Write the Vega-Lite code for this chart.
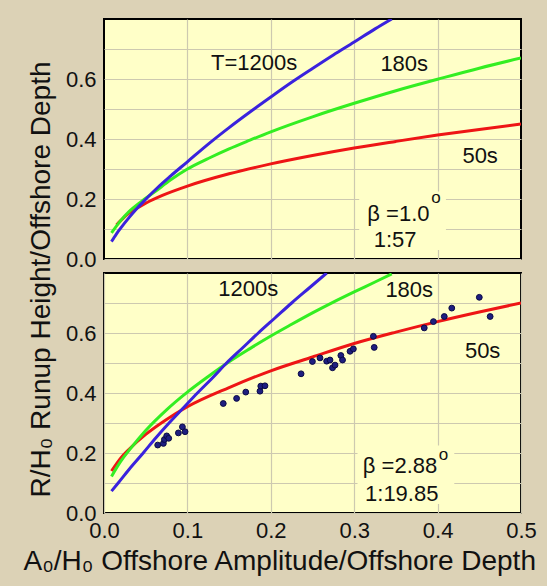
{
  "$schema": "https://vega.github.io/schema/vega-lite/v6.json",
  "background": "#dcd2b6",
  "padding": {"left": 22, "top": 18, "right": 12, "bottom": 10},
  "bounds": "flush",
  "spacing": 14,
  "config": {
    "font": "Liberation Sans",
    "view": {"fill": "#ffffc8", "stroke": "#000000", "strokeWidth": 2},
    "axis": {"domain": false, "ticks": false, "gridColor": "#cdc9b0", "gridWidth": 1.2, "labelFont": "Liberation Sans", "labelFontSize": 22, "labelColor": "#111111", "titleFont": "Liberation Sans", "titleFontWeight": "normal", "titleColor": "#111111", "labelFlush": false, "labelOverlap": false}
  },
  "datasets": {
    "curves": [
      {"panel": "top", "series": "1200s", "x": 0.009, "y": 0.058},
      {"panel": "top", "series": "1200s", "x": 0.015, "y": 0.084},
      {"panel": "top", "series": "1200s", "x": 0.02, "y": 0.103},
      {"panel": "top", "series": "1200s", "x": 0.03, "y": 0.138},
      {"panel": "top", "series": "1200s", "x": 0.04, "y": 0.17},
      {"panel": "top", "series": "1200s", "x": 0.05, "y": 0.199},
      {"panel": "top", "series": "1200s", "x": 0.065, "y": 0.24},
      {"panel": "top", "series": "1200s", "x": 0.08, "y": 0.277},
      {"panel": "top", "series": "1200s", "x": 0.1, "y": 0.324},
      {"panel": "top", "series": "1200s", "x": 0.125, "y": 0.383},
      {"panel": "top", "series": "1200s", "x": 0.15, "y": 0.438},
      {"panel": "top", "series": "1200s", "x": 0.175, "y": 0.49},
      {"panel": "top", "series": "1200s", "x": 0.2, "y": 0.54},
      {"panel": "top", "series": "1200s", "x": 0.225, "y": 0.589},
      {"panel": "top", "series": "1200s", "x": 0.25, "y": 0.635},
      {"panel": "top", "series": "1200s", "x": 0.275, "y": 0.68},
      {"panel": "top", "series": "1200s", "x": 0.3, "y": 0.723},
      {"panel": "top", "series": "1200s", "x": 0.325, "y": 0.767},
      {"panel": "top", "series": "1200s", "x": 0.345, "y": 0.8},
      {"panel": "top", "series": "180s", "x": 0.009, "y": 0.087},
      {"panel": "top", "series": "180s", "x": 0.02, "y": 0.128},
      {"panel": "top", "series": "180s", "x": 0.03, "y": 0.158},
      {"panel": "top", "series": "180s", "x": 0.045, "y": 0.192},
      {"panel": "top", "series": "180s", "x": 0.06, "y": 0.222},
      {"panel": "top", "series": "180s", "x": 0.08, "y": 0.264},
      {"panel": "top", "series": "180s", "x": 0.1, "y": 0.3},
      {"panel": "top", "series": "180s", "x": 0.125, "y": 0.335},
      {"panel": "top", "series": "180s", "x": 0.15, "y": 0.367},
      {"panel": "top", "series": "180s", "x": 0.175, "y": 0.396},
      {"panel": "top", "series": "180s", "x": 0.2, "y": 0.424},
      {"panel": "top", "series": "180s", "x": 0.25, "y": 0.474},
      {"panel": "top", "series": "180s", "x": 0.3, "y": 0.519},
      {"panel": "top", "series": "180s", "x": 0.35, "y": 0.561},
      {"panel": "top", "series": "180s", "x": 0.4, "y": 0.599},
      {"panel": "top", "series": "180s", "x": 0.45, "y": 0.636},
      {"panel": "top", "series": "180s", "x": 0.5, "y": 0.67},
      {"panel": "top", "series": "50s", "x": 0.015, "y": 0.113},
      {"panel": "top", "series": "50s", "x": 0.02, "y": 0.128},
      {"panel": "top", "series": "50s", "x": 0.03, "y": 0.153},
      {"panel": "top", "series": "50s", "x": 0.04, "y": 0.17},
      {"panel": "top", "series": "50s", "x": 0.05, "y": 0.186},
      {"panel": "top", "series": "50s", "x": 0.07, "y": 0.212},
      {"panel": "top", "series": "50s", "x": 0.1, "y": 0.243},
      {"panel": "top", "series": "50s", "x": 0.15, "y": 0.284},
      {"panel": "top", "series": "50s", "x": 0.2, "y": 0.317},
      {"panel": "top", "series": "50s", "x": 0.25, "y": 0.345},
      {"panel": "top", "series": "50s", "x": 0.3, "y": 0.37},
      {"panel": "top", "series": "50s", "x": 0.35, "y": 0.392},
      {"panel": "top", "series": "50s", "x": 0.4, "y": 0.413},
      {"panel": "top", "series": "50s", "x": 0.45, "y": 0.432},
      {"panel": "top", "series": "50s", "x": 0.5, "y": 0.45},
      {"panel": "bottom", "series": "1200s", "x": 0.009, "y": 0.073},
      {"panel": "bottom", "series": "1200s", "x": 0.017, "y": 0.1},
      {"panel": "bottom", "series": "1200s", "x": 0.03, "y": 0.145},
      {"panel": "bottom", "series": "1200s", "x": 0.047, "y": 0.2},
      {"panel": "bottom", "series": "1200s", "x": 0.062, "y": 0.25},
      {"panel": "bottom", "series": "1200s", "x": 0.078, "y": 0.3},
      {"panel": "bottom", "series": "1200s", "x": 0.095, "y": 0.35},
      {"panel": "bottom", "series": "1200s", "x": 0.112, "y": 0.4},
      {"panel": "bottom", "series": "1200s", "x": 0.13, "y": 0.45},
      {"panel": "bottom", "series": "1200s", "x": 0.147, "y": 0.5},
      {"panel": "bottom", "series": "1200s", "x": 0.166, "y": 0.55},
      {"panel": "bottom", "series": "1200s", "x": 0.185, "y": 0.6},
      {"panel": "bottom", "series": "1200s", "x": 0.205, "y": 0.65},
      {"panel": "bottom", "series": "1200s", "x": 0.225, "y": 0.7},
      {"panel": "bottom", "series": "1200s", "x": 0.246, "y": 0.75},
      {"panel": "bottom", "series": "1200s", "x": 0.267, "y": 0.8},
      {"panel": "bottom", "series": "180s", "x": 0.009, "y": 0.122},
      {"panel": "bottom", "series": "180s", "x": 0.02, "y": 0.172},
      {"panel": "bottom", "series": "180s", "x": 0.031, "y": 0.212},
      {"panel": "bottom", "series": "180s", "x": 0.05, "y": 0.275},
      {"panel": "bottom", "series": "180s", "x": 0.075, "y": 0.344},
      {"panel": "bottom", "series": "180s", "x": 0.1, "y": 0.403},
      {"panel": "bottom", "series": "180s", "x": 0.125, "y": 0.455},
      {"panel": "bottom", "series": "180s", "x": 0.15, "y": 0.504},
      {"panel": "bottom", "series": "180s", "x": 0.175, "y": 0.548},
      {"panel": "bottom", "series": "180s", "x": 0.2, "y": 0.59},
      {"panel": "bottom", "series": "180s", "x": 0.225, "y": 0.629},
      {"panel": "bottom", "series": "180s", "x": 0.25, "y": 0.667},
      {"panel": "bottom", "series": "180s", "x": 0.275, "y": 0.703},
      {"panel": "bottom", "series": "180s", "x": 0.3, "y": 0.737},
      {"panel": "bottom", "series": "180s", "x": 0.325, "y": 0.77},
      {"panel": "bottom", "series": "180s", "x": 0.345, "y": 0.797},
      {"panel": "bottom", "series": "50s", "x": 0.009, "y": 0.14},
      {"panel": "bottom", "series": "50s", "x": 0.02, "y": 0.183},
      {"panel": "bottom", "series": "50s", "x": 0.031, "y": 0.215},
      {"panel": "bottom", "series": "50s", "x": 0.05, "y": 0.262},
      {"panel": "bottom", "series": "50s", "x": 0.075, "y": 0.312},
      {"panel": "bottom", "series": "50s", "x": 0.1, "y": 0.354},
      {"panel": "bottom", "series": "50s", "x": 0.15, "y": 0.418},
      {"panel": "bottom", "series": "50s", "x": 0.2, "y": 0.474},
      {"panel": "bottom", "series": "50s", "x": 0.25, "y": 0.52},
      {"panel": "bottom", "series": "50s", "x": 0.3, "y": 0.565},
      {"panel": "bottom", "series": "50s", "x": 0.35, "y": 0.603},
      {"panel": "bottom", "series": "50s", "x": 0.4, "y": 0.638},
      {"panel": "bottom", "series": "50s", "x": 0.45, "y": 0.67},
      {"panel": "bottom", "series": "50s", "x": 0.5, "y": 0.7}
    ],
    "dots": [
      {"x": 0.0644, "y": 0.2265}, {"x": 0.0712, "y": 0.232}, {"x": 0.0724, "y": 0.245},
      {"x": 0.0752, "y": 0.257}, {"x": 0.0776, "y": 0.249}, {"x": 0.0892, "y": 0.267},
      {"x": 0.094, "y": 0.287}, {"x": 0.0972, "y": 0.271}, {"x": 0.143, "y": 0.365},
      {"x": 0.159, "y": 0.382}, {"x": 0.17, "y": 0.403}, {"x": 0.187, "y": 0.406},
      {"x": 0.188, "y": 0.423}, {"x": 0.193, "y": 0.424}, {"x": 0.2363, "y": 0.464},
      {"x": 0.2499, "y": 0.505}, {"x": 0.259, "y": 0.517}, {"x": 0.267, "y": 0.506},
      {"x": 0.271, "y": 0.51}, {"x": 0.274, "y": 0.484}, {"x": 0.277, "y": 0.493},
      {"x": 0.284, "y": 0.525}, {"x": 0.286, "y": 0.51}, {"x": 0.295, "y": 0.539},
      {"x": 0.299, "y": 0.547}, {"x": 0.323, "y": 0.589}, {"x": 0.324, "y": 0.552},
      {"x": 0.384, "y": 0.617}, {"x": 0.395, "y": 0.638}, {"x": 0.408, "y": 0.655},
      {"x": 0.417, "y": 0.683}, {"x": 0.45, "y": 0.719}, {"x": 0.463, "y": 0.655}
    ],
    "labels": [
      {"panel": "top", "x": 0.18, "y": 0.655, "text": "T=1200s"},
      {"panel": "top", "x": 0.36, "y": 0.65, "text": "180s"},
      {"panel": "top", "x": 0.451, "y": 0.345, "text": "50s"},
      {"panel": "top", "x": 0.353, "y": 0.15, "text": "β =1.0"},
      {"panel": "top", "x": 0.349, "y": 0.062, "text": "1:57"},
      {"panel": "bottom", "x": 0.173, "y": 0.747, "text": "1200s"},
      {"panel": "bottom", "x": 0.366, "y": 0.742, "text": "180s"},
      {"panel": "bottom", "x": 0.454, "y": 0.54, "text": "50s"},
      {"panel": "bottom", "x": 0.355, "y": 0.158, "text": "β =2.88"},
      {"panel": "bottom", "x": 0.357, "y": 0.064, "text": "1:19.85"}
    ],
    "supers": [
      {"panel": "top", "x": 0.398, "y": 0.205, "text": "o"},
      {"panel": "bottom", "x": 0.407, "y": 0.192, "text": "o"}
    ],
    "boxes": [
      {"panel": "top", "x": 0.306, "x2": 0.41, "y": 0.03, "y2": 0.225},
      {"panel": "bottom", "x": 0.304, "x2": 0.42, "y": 0.03, "y2": 0.225}
    ]
  },
  "vconcat": [
    {
      "width": 417,
      "height": 240,
      "encoding": {
        "x": {"field": "x", "type": "quantitative", "scale": {"domain": [0, 0.5], "nice": false, "zero": false},
              "axis": {"grid": true, "labels": false, "title": null, "values": [0.1, 0.2, 0.3, 0.4]}},
        "y": {"field": "y", "type": "quantitative", "scale": {"domain": [0, 0.8], "nice": false},
              "axis": {"grid": true, "title": null, "values": [0, 0.1, 0.2, 0.3, 0.4, 0.5, 0.6, 0.7], "format": ".1f", "labelPadding": 8,
                       "labelExpr": "round(datum.value*10) % 2 == 0 ? datum.label : ''"}}
      },
      "layer": [
        {"data": {"name": "boxes"}, "transform": [{"filter": "datum.panel == 'top'"}],
         "mark": {"type": "rect", "fill": "#ffffc8"},
         "encoding": {"x2": {"field": "x2"}, "y2": {"field": "y2"}}},
        {"data": {"name": "curves"}, "transform": [{"filter": "datum.panel == 'top' && datum.series == '50s'"}],
         "mark": {"type": "line", "color": "#ee1515", "strokeWidth": 3, "interpolate": "monotone", "clip": true}, "encoding": {}},
        {"data": {"name": "curves"}, "transform": [{"filter": "datum.panel == 'top' && datum.series == '180s'"}],
         "mark": {"type": "line", "color": "#33ee22", "strokeWidth": 3, "interpolate": "monotone", "clip": true}, "encoding": {}},
        {"data": {"name": "curves"}, "transform": [{"filter": "datum.panel == 'top' && datum.series == '1200s'"}],
         "mark": {"type": "line", "color": "#3a22dd", "strokeWidth": 3, "interpolate": "monotone", "clip": true}, "encoding": {}},
        {"data": {"name": "labels"}, "transform": [{"filter": "datum.panel == 'top'"}],
         "mark": {"type": "text", "fontSize": 22, "font": "Liberation Sans", "color": "#111111", "align": "center", "baseline": "middle"},
         "encoding": {"text": {"field": "text"}}},
        {"data": {"name": "supers"}, "transform": [{"filter": "datum.panel == 'top'"}],
         "mark": {"type": "text", "fontSize": 17, "font": "Liberation Sans", "color": "#111111", "align": "center", "baseline": "middle"},
         "encoding": {"text": {"field": "text"}}}
      ]
    },
    {
      "width": 417,
      "height": 240,
      "encoding": {
        "x": {"field": "x", "type": "quantitative", "scale": {"domain": [0, 0.5], "nice": false, "zero": false},
              "axis": {"grid": true, "values": [0, 0.1, 0.2, 0.3, 0.4, 0.5], "format": ".1f", "labelPadding": 7,
                       "title": "A₀/H₀ Offshore Amplitude/Offshore Depth", "titleFontSize": 28,
                       "titleX": -81, "titleY": 56, "titleAlign": "left", "titleBaseline": "alphabetic"}},
        "y": {"field": "y", "type": "quantitative", "scale": {"domain": [0, 0.8], "nice": false},
              "axis": {"grid": true, "values": [0, 0.1, 0.2, 0.3, 0.4, 0.5, 0.6, 0.7], "format": ".1f", "labelPadding": 8,
                       "labelExpr": "round(datum.value*10) % 2 == 0 ? datum.label : ''",
                       "title": "R/H₀    Runup Height/Offshore Depth", "titleFontSize": 28,
                       "titleAngle": 270, "titleAlign": "left", "titleBaseline": "alphabetic", "titleX": -55, "titleY": 224}}
      },
      "layer": [
        {"data": {"name": "boxes"}, "transform": [{"filter": "datum.panel == 'bottom'"}],
         "mark": {"type": "rect", "fill": "#ffffc8"},
         "encoding": {"x2": {"field": "x2"}, "y2": {"field": "y2"}}},
        {"data": {"name": "curves"}, "transform": [{"filter": "datum.panel == 'bottom' && datum.series == '50s'"}],
         "mark": {"type": "line", "color": "#ee1515", "strokeWidth": 3, "interpolate": "monotone", "clip": true}, "encoding": {}},
        {"data": {"name": "curves"}, "transform": [{"filter": "datum.panel == 'bottom' && datum.series == '180s'"}],
         "mark": {"type": "line", "color": "#33ee22", "strokeWidth": 3, "interpolate": "monotone", "clip": true}, "encoding": {}},
        {"data": {"name": "curves"}, "transform": [{"filter": "datum.panel == 'bottom' && datum.series == '1200s'"}],
         "mark": {"type": "line", "color": "#3a22dd", "strokeWidth": 3, "interpolate": "monotone", "clip": true}, "encoding": {}},
        {"data": {"name": "dots"},
         "mark": {"type": "point", "filled": true, "fill": "#1e1e80", "stroke": "#0a0a45", "strokeWidth": 1, "size": 34, "opacity": 1}},
        {"data": {"name": "labels"}, "transform": [{"filter": "datum.panel == 'bottom'"}],
         "mark": {"type": "text", "fontSize": 22, "font": "Liberation Sans", "color": "#111111", "align": "center", "baseline": "middle"},
         "encoding": {"text": {"field": "text"}}},
        {"data": {"name": "supers"}, "transform": [{"filter": "datum.panel == 'bottom'"}],
         "mark": {"type": "text", "fontSize": 17, "font": "Liberation Sans", "color": "#111111", "align": "center", "baseline": "middle"},
         "encoding": {"text": {"field": "text"}}}
      ]
    }
  ]
}
